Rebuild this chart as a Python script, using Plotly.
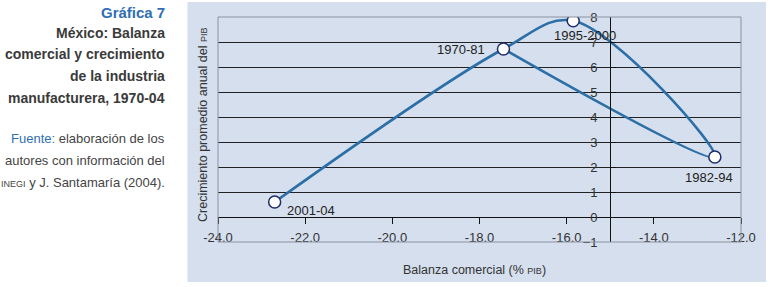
import plotly.graph_objects as go

# ---- data ----
periods = ["1970-81", "1982-94", "1995-2000", "2001-04"]
balanza = [-17.45, -12.6, -15.85, -22.7]
crecimiento = [6.72, 2.4, 7.85, 0.6]

# order in which the smoothed curve visits the periods
curve_order = ["2001-04", "1970-81", "1995-2000", "1982-94", "1970-81"]

x_ticks = [-24, -22, -20, -18, -16, -14, -12]
x_ticklabels = ["-24.0", "-22.0", "-20.0", "-18.0", "-16.0", "-14.0", "-12.0"]
y_ticks = [-1, 0, 1, 2, 3, 4, 5, 6, 7, 8]

# ---- geometry helpers (pixels -> paper) ----
W, H = 770, 287
L, R, T, B = 218, 741, 17, 242


def xp(px):
    return (px - L) / (R - L)


def yp(py):
    return (B - py) / (B - T)


FONT = "Liberation Sans, Arial, sans-serif"
LINE_COLOR = "#2c6ea6"
PANEL = "#d5dfee"
TXT = "#333333"

idx = {p: i for i, p in enumerate(periods)}
cx = [balanza[idx[p]] for p in curve_order]
cy = [crecimiento[idx[p]] for p in curve_order]

fig = go.Figure()
fig.add_trace(go.Scatter(
    x=cx, y=cy, mode="lines",
    line=dict(color=LINE_COLOR, width=2.6, shape="spline", smoothing=1.0),
    hoverinfo="skip", showlegend=False,
))
fig.add_trace(go.Scatter(
    x=balanza, y=crecimiento, mode="markers",
    marker=dict(size=12, color="white", line=dict(color="#1f2d6b", width=1.5)),
    hoverinfo="skip", showlegend=False,
))

# point labels: (xanchor, yanchor, xshift, yshift)
label_style = [("right", "middle", -16, 0),
               ("center", "top", -6, -11),
               ("center", "top", 12, -5),
               ("left", "middle", 10, -8)]
annotations = []
for p, xv, yv, st in zip(periods, balanza, crecimiento, label_style):
    annotations.append(dict(x=xv, y=yv, xref="x", yref="y", text=p, showarrow=False,
                            xanchor=st[0], yanchor=st[1], xshift=st[2], yshift=st[3],
                            font=dict(family=FONT, size=13, color="#222222")))

# axis titles
annotations.append(dict(x=xp(474), y=yp(269.5), xref="paper", yref="paper",
                        text='Balanza comercial (% <span style="font-size:9px">PIB</span>)',
                        showarrow=False, xanchor="center", yanchor="middle",
                        font=dict(family=FONT, size=12.5, color=TXT)))
annotations.append(dict(x=xp(203), y=yp(125), xref="paper", yref="paper",
                        text='Crecimiento promedio anual del <span style="font-size:9px">PIB</span>',
                        showarrow=False, xanchor="center", yanchor="middle", textangle=-90,
                        font=dict(family=FONT, size=12.5, color=TXT)))

# left side text block: (text, y pixel, colour, size)
side_lines = [
    ("<b>Gráfica 7</b>", 12, "#2f6fb3", 15),
    ("<b>México: Balanza</b>", 33, "#3a3a3a", 14),
    ("<b>comercial y crecimiento</b>", 54.5, "#3a3a3a", 14),
    ("<b>de la industria</b>", 76, "#3a3a3a", 14),
    ("<b>manufacturera, 1970-04</b>", 97.5, "#3a3a3a", 14),
    ('<span style="color:#2f6fb3">Fuente:</span> elaboración de los', 138.5, "#444444", 13),
    ("autores con información del", 160.5, "#444444", 13),
    ('<span style="font-size:9px">INEGI</span> y J. Santamaría (2004).', 182.5, "#444444", 13),
]
for txt, py, col, sz in side_lines:
    annotations.append(dict(x=xp(167), y=yp(py), xref="paper", yref="paper", text=txt,
                            showarrow=False, xanchor="right", yanchor="middle",
                            font=dict(family=FONT, size=sz, color=col)))

shapes = [
    dict(type="rect", xref="paper", yref="paper", x0=xp(187.5), x1=xp(766), y0=yp(282), y1=yp(2),
         fillcolor=PANEL, line=dict(width=0), layer="below"),
    dict(type="rect", xref="paper", yref="paper", x0=0, x1=1, y0=0, y1=1,
         fillcolor="rgba(0,0,0,0)", line=dict(color="#8a93a0", width=1), layer="above"),
]

fig.update_layout(
    width=W, height=H,
    margin=dict(l=L, r=W - R, t=T, b=H - B, pad=0),
    paper_bgcolor="white", plot_bgcolor=PANEL,
    font=dict(family=FONT, size=13, color=TXT),
    xaxis=dict(range=[-24, -12], tickvals=x_ticks, ticktext=x_ticklabels, automargin=False,
               anchor="free", position=1 / 9, showline=True, linecolor="#111111", linewidth=1.2,
               ticks="outside", ticklen=6, tickcolor="#111111", tickwidth=1.2,
               ticklabelstandoff=2, showgrid=False, zeroline=False,
               tickfont=dict(family=FONT, size=13, color=TXT)),
    yaxis=dict(range=[-1, 8], tickvals=y_ticks, anchor="free", position=0.75, automargin=False,
               showline=True, linecolor="#111111", linewidth=1.2,
               ticks="inside", ticklen=5, tickcolor="#111111", tickwidth=1.2,
               showgrid=True, gridcolor="#222222", gridwidth=1, zeroline=False,
               ticklabelstandoff=10,
               tickfont=dict(family=FONT, size=13, color=TXT)),
    shapes=shapes, annotations=annotations,
)

fig.write_html("out.html", config={"displayModeBar": False},
               post_script="document.body.style.margin='0';document.body.style.padding='0';")
